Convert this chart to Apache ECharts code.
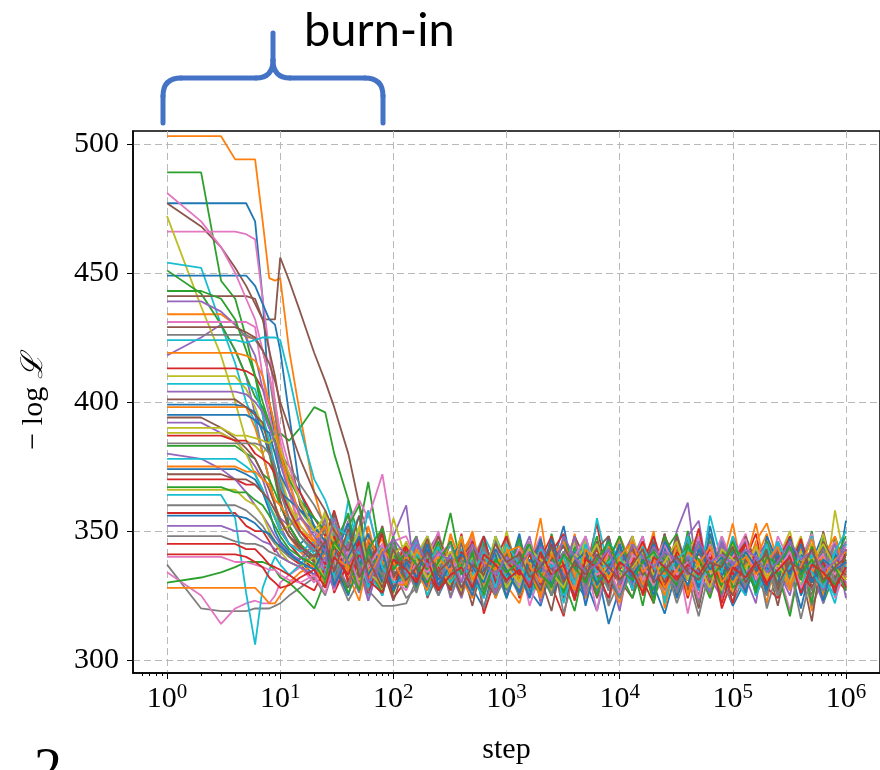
<!DOCTYPE html>
<html>
<head>
<meta charset="utf-8">
<script src="https://cdn.jsdelivr.net/npm/echarts@6/dist/echarts.min.js"></script>
<style>
  html, body { margin: 0; padding: 0; background: #fff; }
  #chart { width: 880px; height: 770px; }
</style>
</head>
<body>
<div id="chart"></div>
<script>
// sampled steps (log spaced after the first decade)
var steps = [1, 2, 3, 4, 5, 6, 7, 8, 9, 10, 12, 15, 20, 25, 30, 40, 50, 60, 80, 100,
  130, 160, 200, 250, 320, 400, 500, 630, 800, 1000,
  1300, 1600, 2000, 2500, 3200, 4000, 5000, 6300, 8000, 10000,
  13000, 16000, 20000, 25000, 32000, 40000, 50000, 63000, 80000, 100000,
  130000, 160000, 200000, 250000, 320000, 400000, 500000, 630000, 800000, 1000000];

var xTicks = [1, 10, 100, 1000, 10000, 100000, 1000000];
var xMinorTicks = [0.6, 0.7, 0.8, 0.9, 2, 3, 4, 5, 6, 7, 8, 9,
  20, 30, 40, 50, 60, 70, 80, 90, 200, 300, 400, 500, 600, 700, 800, 900,
  2000, 3000, 4000, 5000, 6000, 7000, 8000, 9000,
  20000, 30000, 40000, 50000, 60000, 70000, 80000, 90000,
  200000, 300000, 400000, 500000, 600000, 700000, 800000, 900000];
var yTicks = [300, 350, 400, 450, 500];

var tab10 = ['#1f77b4', '#ff7f0e', '#2ca02c', '#d62728', '#9467bd',
  '#8c564b', '#e377c2', '#7f7f7f', '#bcbd22', '#17becf'];

// -log L of each walker, steps 1 .. 100
var burnIn = [
  [477,477,477,477,477,470,440,400,385,370,352,345,350,341,334,346,328,339,325,344],
  [503,503,503,494,494,494,470,448,447,448,420,395,365,350,342,336,347,330,338,327],
  [489,489,447,440,425,410,395,380,370,360,352,345,338,346,332,340,351,369,336,326],
  [357,357,357,357,352,350,350,346,342,345,340,337,331,343,327,338,345,330,341,324],
  [418,425,430,420,410,395,380,370,360,352,345,343,338,329,347,335,326,342,333,348],
  [477,468,460,452,445,438,432,432,432,456,447,435,419,408,398,380,360,348,334,341],
  [466,466,466,466,465,463,440,420,400,385,370,355,348,337,352,330,341,327,345,336],
  [337,320,319,319,319,320,320,320,321,322,325,328,332,325,336,323,331,340,328,335],
  [472,437,418,400,385,383,380,384,385,370,360,350,342,351,336,345,328,340,333,355],
  [454,452,430,415,400,392,380,370,360,350,345,340,337,347,331,362,339,326,343,334],
  [449,449,449,449,449,445,438,432,430,420,395,365,352,343,356,334,347,329,338,331],
  [434,434,434,430,425,425,420,410,400,380,365,350,344,336,349,330,342,335,327,339],
  [451,442,430,420,410,402,398,390,385,388,385,390,398,396,380,362,347,333,344,328],
  [413,413,413,413,412,410,405,400,390,380,372,365,355,348,358,339,332,346,329,337],
  [439,439,435,430,425,418,405,395,385,370,358,350,343,355,336,329,344,338,349,332],
  [441,441,441,441,441,440,432,420,410,398,380,360,351,343,357,338,330,347,336,323],
  [431,431,431,431,431,429,410,395,385,378,365,352,346,337,341,328,350,358,334,345],
  [426,426,426,426,426,424,420,410,395,380,375,368,360,352,345,356,336,330,342,338],
  [410,410,410,410,405,398,390,385,380,372,360,352,345,358,339,348,331,343,327,340],
  [407,407,407,407,407,405,395,385,375,368,358,348,341,333,352,337,346,325,339,344],
  [399,399,399,399,398,396,388,380,375,365,362,358,355,350,344,339,351,330,337,328],
  [398,398,398,398,398,390,380,370,360,355,348,342,336,348,329,341,334,352,331,343],
  [383,383,383,383,380,378,372,370,365,360,352,345,340,331,344,352,360,335,326,341],
  [370,370,370,370,368,368,365,360,355,350,345,340,335,342,326,338,347,332,344,336],
  [392,392,388,385,380,375,370,362,358,355,352,355,350,345,340,354,333,341,329,346],
  [401,401,401,401,398,395,392,382,372,362,350,344,339,352,334,328,343,337,350,331],
  [334,325,314,320,322,323,322,322,325,330,333,336,330,339,327,344,335,323,341,332],
  [348,348,348,346,345,345,344,342,341,340,338,336,341,332,349,337,327,345,333,339],
  [388,388,388,385,380,372,366,360,356,350,352,358,350,346,355,338,344,330,341,335],
  [364,364,364,355,326,306,328,335,340,337,333,337,344,328,339,347,356,334,325,342],
  [374,374,374,374,372,370,365,358,350,346,342,338,333,346,337,325,341,349,334,338],
  [328,328,328,328,328,328,325,322,322,325,330,334,337,329,345,333,323,339,347,330],
  [330,332,334,336,338,338,338,337,335,332,330,326,320,331,340,326,335,344,332,338],
  [345,345,345,345,343,343,340,337,336,335,333,330,327,336,344,331,338,326,342,335],
  [380,378,374,370,365,360,356,352,348,345,341,339,345,334,328,343,350,337,331,344],
  [394,394,390,386,382,378,372,366,360,354,348,343,338,347,335,329,342,336,352,333],
  [481,470,460,450,440,432,420,410,400,388,375,362,350,345,340,353,362,355,372,346],
  [360,360,360,360,358,355,352,348,345,343,340,338,335,342,330,346,334,327,321,321],
  [366,366,366,366,362,360,356,350,346,342,338,336,340,331,347,335,352,338,329,343],
  [378,378,378,378,375,372,366,360,355,350,345,342,346,337,333,349,340,328,344,336],
  [395,395,395,395,395,393,390,388,380,372,365,358,352,346,340,353,337,344,330,339],
  [375,375,375,375,373,373,370,368,362,360,355,350,346,339,353,335,328,347,338,331],
  [443,443,440,432,420,410,400,392,385,378,370,362,355,350,343,357,336,342,333,348],
  [387,387,387,385,385,380,378,376,372,366,358,350,344,337,348,330,341,335,349,327],
  [352,352,352,350,350,348,346,345,343,340,338,336,333,340,328,345,337,323,342,336],
  [429,429,429,429,427,425,420,415,408,400,390,378,365,358,350,342,356,338,345,332],
  [340,340,340,338,338,337,336,335,335,333,331,330,333,326,338,342,329,336,345,330],
  [384,384,384,384,384,384,383,380,375,365,355,348,342,351,337,329,346,340,333,344],
  [390,390,390,387,387,386,385,384,387,382,372,362,350,356,345,338,352,334,329,341],
  [424,424,424,424,423,424,425,425,425,424,410,390,370,362,352,348,341,358,336,330],
  [356,356,356,356,355,353,350,349,346,344,341,338,335,344,329,340,348,333,342,327],
  [419,419,419,419,418,416,410,400,390,380,368,356,346,352,340,336,345,331,343,338],
  [367,367,367,365,365,362,360,356,352,348,343,340,337,331,346,338,327,343,351,335],
  [341,341,341,341,340,338,336,332,330,328,329,332,335,328,340,333,346,331,326,339],
  [404,404,404,404,403,400,396,390,384,376,365,356,348,342,355,337,344,330,341,347],
  [372,372,372,370,370,368,365,362,358,354,348,344,340,346,334,351,332,339,328,343]
];

// -log L of each walker, steps 130 .. 1e6
var settled = [
  [338,331,342,325,335,346,328,320,339,334, 343,327,321,336,352,331,324,335,314,328, 339,348,329,318,335,342,327,352,332,321, 331,341,325,345,336,320,338,349,329,335],
  [334,343,336,327,348,338,325,332,341,329, 322,335,355,328,339,346,324,336,331,342, 327,335,350,320,339,331,343,325,336,353, 328,338,322,346,334,341,319,335,345,328],
  [341,348,329,338,357,335,327,345,324,336, 332,342,325,349,331,319,339,334,346,327, 338,321,342,335,329,350,334,324,341,331, 348,325,336,329,342,335,350,322,334,339],
  [331,339,348,328,335,325,343,318,332,342, 324,336,346,329,317,339,334,353,327,335, 342,331,322,348,338,328,335,343,320,332, 339,349,328,324,336,345,331,325,341,334],
  [360,327,342,349,334,324,339,331,346,328, 335,343,322,338,331,348,325,341,335,319, 345,332,338,328,350,361,329,336,325,342, 332,322,348,335,327,343,338,331,346,324],
  [335,342,324,334,345,336,321,341,329,348, 328,338,332,319,342,335,346,327,336,331, 324,341,334,349,328,336,320,343,335,339, 346,329,338,321,342,334,325,350,331,336],
  [343,332,338,350,327,335,345,325,336,328, 339,321,334,343,336,327,348,331,324,341, 335,345,325,332,341,318,338,348,329,335, 325,342,334,336,319,339,349,328,335,343],
  [324,328,334,325,338,331,341,320,335,329, 336,325,332,342,318,334,328,338,321,331, 339,328,335,324,343,332,317,336,331,322, 334,341,320,335,328,338,321,332,342,327],
  [339,334,346,329,338,325,342,335,328,350, 332,338,343,327,336,348,331,325,341,335, 328,346,336,325,334,342,349,329,338,327, 345,335,328,339,350,331,341,324,358,336],
  [332,341,325,336,345,328,338,348,331,335, 342,324,335,331,339,346,327,355,335,325, 338,331,348,322,341,335,328,345,336,332, 325,343,335,331,348,327,338,334,322,342],
  [336,346,331,339,327,343,335,324,348,332, 328,336,345,325,335,341,331,319,338,348, 332,327,339,343,324,336,348,331,335,341, 328,338,346,325,335,329,341,336,327,354],
  [342,335,327,348,336,331,324,341,335,345, 325,334,342,336,329,349,327,338,332,322, 339,345,335,328,348,324,336,331,341,335, 334,346,353,338,328,336,343,325,335,331],
  [334,338,345,327,335,342,348,329,336,324, 341,332,325,338,345,328,335,348,327,339, 331,336,324,342,349,334,328,339,332,343, 327,336,342,334,317,339,331,324,348,335],
  [345,336,329,339,332,349,327,335,342,331, 336,346,328,335,324,341,334,343,331,338, 348,328,336,332,339,324,343,335,327,346, 336,331,341,325,343,335,328,338,332,327],
  [329,339,335,343,324,336,346,328,338,334, 327,342,336,331,348,325,335,341,329,336, 339,332,343,327,335,348,354,328,338,331, 342,325,335,346,329,338,334,322,341,335],
  [338,343,332,327,342,335,348,331,325,336, 345,334,327,339,335,324,343,332,348,328, 336,341,331,349,325,335,338,328,345,334, 327,338,343,332,339,335,315,345,328,336],
  [335,328,341,348,331,338,325,343,334,341, 329,338,348,327,335,342,322,336,331,346, 327,335,343,325,338,331,348,336,328,339, 349,331,336,327,343,334,324,339,346,329],
  [328,338,334,342,325,335,345,336,327,348, 335,325,341,332,338,328,345,335,322,341, 334,343,327,336,332,339,322,348,335,328, 338,332,325,343,336,316,334,341,328,338],
  [341,331,336,346,335,327,339,348,331,338, 325,335,343,334,328,338,346,327,336,331, 342,335,325,345,334,338,329,349,327,336, 332,342,335,325,338,348,331,336,343,327],
  [331,339,348,335,328,343,332,324,341,335, 346,328,336,341,325,334,343,336,327,348, 335,331,342,324,336,346,328,356,338,332, 341,325,335,345,328,336,348,329,339,334],
  [336,343,327,338,332,342,335,346,328,339, 334,324,345,336,329,341,335,325,348,331, 338,328,335,343,324,339,334,345,327,336, 346,329,338,334,342,325,335,345,331,338],
  [343,334,339,328,349,336,331,341,324,335, 342,336,327,348,332,339,324,335,343,328, 334,341,336,325,345,332,338,327,348,335, 331,339,349,328,336,343,334,325,338,332],
  [332,341,335,345,329,338,348,328,336,327, 338,346,334,325,342,335,329,339,345,334, 324,336,343,334,328,339,335,346,325,338, 335,345,328,338,332,341,322,348,335,331],
  [339,329,346,336,327,335,342,332,339,348, 329,338,334,342,349,327,336,331,341,335, 345,325,336,341,332,348,328,335,338,322, 342,334,339,329,346,335,327,338,334,343],
  [335,345,328,334,341,331,336,346,335,325, 348,332,339,328,336,343,335,327,346,338, 329,339,334,345,327,336,342,332,324,348, 336,328,341,335,325,345,338,332,342,327],
  [342,332,338,348,335,325,343,336,328,341, 335,345,327,338,331,348,339,324,335,342, 332,336,346,328,338,335,325,343,336,331, 348,338,329,341,335,328,345,336,332,339],
  [327,336,343,332,339,335,348,325,338,331, 341,335,328,346,336,331,339,319,343,334, 338,348,329,335,342,327,336,345,332,325, 335,341,331,348,338,328,336,343,324,335],
  [338,348,332,339,328,345,336,331,341,335, 325,336,346,335,342,332,327,338,334,345, 328,335,339,332,348,336,327,343,335,338, 331,342,336,325,346,334,339,329,336,345],
  [346,336,341,331,338,348,329,335,343,328, 336,343,335,327,339,334,346,328,336,341, 335,331,342,338,327,336,345,334,339,329, 341,335,345,336,328,339,332,349,329,342],
  [334,342,336,346,327,335,339,331,348,338, 328,339,335,343,322,338,348,331,335,341, 345,336,328,339,335,343,332,327,348,336, 329,339,335,346,328,338,341,332,325,345],
  [341,335,328,338,346,334,325,342,336,332, 349,329,338,335,345,327,336,341,332,324, 339,334,345,336,328,335,346,331,338,342, 335,327,348,338,331,341,335,343,328,336],
  [329,338,346,335,331,341,349,328,336,334, 342,335,325,345,338,332,341,335,328,348, 336,327,338,346,334,341,331,336,343,325, 338,353,332,339,335,328,345,336,341,331],
  [336,328,339,343,334,338,327,346,335,342, 331,341,336,328,348,335,343,325,338,332, 342,335,327,348,336,329,339,335,345,328, 332,336,342,329,338,346,335,327,339,348],
  [345,339,334,327,342,336,346,335,329,338, 335,328,339,348,331,336,342,334,324,343, 327,338,348,335,341,331,336,343,328,339, 345,335,329,338,348,332,339,335,342,328],
  [332,343,336,341,335,328,338,348,331,336, 339,348,329,335,342,336,325,345,334,338, 348,329,339,335,327,342,336,332,345,335, 328,339,346,335,331,343,336,327,338,346],
  [339,335,345,328,336,346,334,339,327,343, 334,338,346,336,327,339,335,343,348,331, 336,342,332,339,345,327,335,338,342,334, 339,331,336,342,335,346,328,338,334,341],
  [348,338,331,342,335,339,345,327,336,335, 343,336,331,339,346,328,338,335,342,332, 339,331,338,346,335,341,328,336,348,338, 334,343,339,331,336,345,335,341,328,338],
  [322,331,338,334,328,336,343,335,325,332, 338,329,335,345,327,336,332,339,334,324, 335,341,331,338,322,334,342,336,329,335, 339,328,335,338,343,332,327,336,345,334],
  [335,341,348,336,329,339,332,342,335,345, 328,338,334,342,336,346,327,335,339,331, 348,336,329,338,342,332,339,335,327,345, 336,334,341,331,338,329,345,335,339,332],
  [338,346,335,329,341,336,328,348,339,332, 336,345,327,338,335,343,334,328,346,339, 331,338,342,334,336,348,327,339,335,343, 338,329,335,346,336,328,341,334,342,336],
  [336,329,343,331,339,346,327,335,341,324, 338,332,347,329,336,342,321,339,333,345, 330,337,325,344,335,340,328,349,333,338, 326,342,336,330,347,334,339,323,341,335],
  [341,334,327,345,332,338,350,329,336,343, 331,337,324,340,346,333,338,328,344,336, 342,329,337,333,346,325,339,335,341,330, 336,345,331,338,327,343,334,340,348,332],
  [328,340,335,346,330,337,342,325,339,334, 347,331,336,341,326,344,335,330,339,348, 333,338,322,341,336,345,331,337,329,343, 340,326,346,333,338,331,344,336,329,341],
  [344,331,339,336,327,342,335,348,330,338, 333,341,329,345,337,324,340,335,343,331, 338,346,334,328,342,336,351,330,337,333, 345,338,329,340,334,347,331,338,326,343],
  [333,345,338,329,341,334,337,343,326,339, 336,330,344,338,333,348,327,340,335,342, 329,335,344,337,330,340,334,326,346,338, 332,340,336,344,329,337,342,333,345,330],
  [339,336,347,333,328,340,345,332,337,330, 342,335,327,339,344,336,331,346,328,337, 343,333,339,330,348,335,341,338,332,325, 339,334,343,327,341,338,330,346,337,333],
  [330,338,334,341,345,331,336,327,343,337, 329,346,334,338,331,340,348,333,336,326, 341,337,329,345,333,338,324,342,336,340, 347,331,338,335,342,328,336,341,333,344],
  [337,326,341,335,332,339,329,344,334,337, 340,333,338,325,342,331,336,339,327,343, 335,328,336,341,326,337,344,331,339,335, 329,337,341,325,339,333,336,343,330,338],
  [345,339,332,337,342,335,340,331,348,336, 330,343,339,334,328,341,337,345,331,339, 336,342,333,338,346,331,337,328,343,339, 335,344,332,337,330,342,338,345,336,331],
  [332,341,337,344,330,336,333,342,328,345, 337,331,343,336,340,329,345,334,338,341, 327,344,336,332,339,343,330,337,334,348, 331,336,345,329,336,340,334,328,342,350],
  [338,332,345,329,337,341,336,330,343,335, 326,339,334,347,331,338,342,329,336,344, 333,339,331,346,337,329,343,335,340,331, 342,336,327,341,333,345,330,339,335,338],
  [329,343,336,340,334,347,331,338,335,342, 344,337,330,341,335,327,343,338,332,340, 346,334,339,328,335,342,337,344,330,336, 340,333,338,344,329,336,347,332,339,342],
  [342,337,330,338,346,333,341,327,339,334, 338,345,333,329,341,336,330,339,346,335, 331,338,342,335,329,344,339,332,337,346, 334,328,340,337,344,333,339,330,336,327],
  [335,330,339,327,333,336,328,341,337,331, 335,328,342,333,337,323,339,336,330,338, 334,326,340,336,331,337,333,340,322,336, 332,338,330,335,340,326,337,334,328,336],
  [340,347,336,342,338,330,345,337,333,340, 336,342,337,331,348,340,334,337,343,329, 345,340,336,342,339,333,346,338,341,337, 343,340,334,338,346,339,342,335,338,343],
  [331,336,342,334,339,328,337,333,345,338, 341,332,336,344,330,338,333,341,336,331, 337,343,330,335,340,334,331,338,336,344, 330,337,341,329,338,335,343,331,336,340]
];

var serif = '"Liberation Serif", "DejaVu Serif", serif';

var chart = echarts.init(document.getElementById('chart'));

var series = burnIn.map(function (head, w) {
  var vals = head.concat(settled[w]);
  return {
    type: 'line',
    xAxisIndex: 0,
    yAxisIndex: 0,
    symbol: 'none',
    silent: true,
    lineStyle: { width: 1.8, color: tab10[w % 10] },
    data: steps.map(function (s, i) { return [s, vals[i]]; })
  };
});

// the blue brace over the burn-in phase, drawn as straight and curved pieces
var braceStyle = { stroke: '#4472c4', lineWidth: 5, fill: null, lineCap: 'round' };
function braceLine(x1, y1, x2, y2) {
  return { type: 'line', shape: { x1: x1, y1: y1, x2: x2, y2: y2 }, style: braceStyle, silent: true };
}
function braceCurve(x1, y1, cx, cy, x2, y2) {
  return { type: 'bezierCurve', shape: { x1: x1, y1: y1, cpx1: cx, cpy1: cy, x2: x2, y2: y2 }, style: braceStyle, silent: true };
}
var brace = [
  braceLine(163, 123, 163, 96),
  braceCurve(163, 96, 163, 78, 181, 78),
  braceLine(181, 78, 256, 78),
  braceCurve(256, 78, 273, 78, 273, 60),
  braceLine(273, 60, 273, 33),
  braceCurve(273, 60, 273, 78, 290, 78),
  braceLine(290, 78, 365, 78),
  braceCurve(365, 78, 383, 78, 383, 96),
  braceLine(383, 96, 383, 123)
];

var option = {
  animation: false,
  backgroundColor: '#fff',
  grid: {
    left: 133, top: 131, width: 754, height: 542,
    show: true, borderColor: '#000', borderWidth: 1.5, backgroundColor: 'transparent'
  },
  xAxis: [{
    type: 'log',
    logBase: 10,
    min: 0.5,
    max: 2000000,
    name: 'step',
    nameLocation: 'middle',
    nameGap: 62,
    nameTextStyle: { fontFamily: serif, fontSize: 30, color: '#000' },
    axisLine: { onZero: false, lineStyle: { color: '#000', width: 1.5 } },
    axisTick: { customValues: xTicks, length: 6, lineStyle: { color: '#000', width: 1 } },
    axisLabel: {
      customValues: xTicks,
      margin: 9,
      formatter: function (v) {
        return '{b|10}{s|' + Math.round(Math.log(v) / Math.LN10) + '}';
      },
      rich: {
        b: { fontFamily: serif, fontSize: 30, lineHeight: 34, color: '#000' },
        s: { fontFamily: serif, fontSize: 21, lineHeight: 21, verticalAlign: 'top', color: '#000' }
      }
    },
    splitLine: { show: true, lineStyle: { color: '#b8b8b8', width: 1, type: [7, 4] } }
  }, {
    type: 'log',
    logBase: 10,
    min: 0.5,
    max: 2000000,
    gridIndex: 0,
    position: 'bottom',
    axisLine: { show: false },
    axisTick: { customValues: xMinorTicks, length: 3, lineStyle: { color: '#000', width: 1 } },
    axisLabel: { show: false },
    splitLine: { show: false }
  }],
  yAxis: {
    type: 'value',
    min: 295,
    max: 505,
    name: '{m|\u2212 log }{l|\u2112}',
    nameLocation: 'middle',
    nameRotate: 90,
    nameGap: 84,
    nameTextStyle: {
      rich: {
        m: { fontFamily: serif, fontSize: 30, color: '#000' },
        l: { fontFamily: '"DejaVu Serif", serif', fontStyle: 'italic', fontSize: 30, color: '#000' }
      }
    },
    axisLine: { show: true, lineStyle: { color: '#000', width: 1.5 } },
    axisTick: { show: true, customValues: yTicks, length: 6, lineStyle: { color: '#000', width: 1 } },
    axisLabel: { customValues: yTicks, margin: 14, fontFamily: serif, fontSize: 30, color: '#000' },
    splitLine: { show: true, lineStyle: { color: '#b8b8b8', width: 1, type: [7, 4] } }
  },
  graphic: brace.concat([{
    type: 'text',
    left: 304,
    top: 7,
    style: { text: 'burn-in', fontFamily: 'Lato, "Open Sans", sans-serif', fontSize: 47, fill: '#000' },
    silent: true
  }, {
    type: 'text',
    left: 34,
    top: 744,
    style: { text: '2', fontFamily: serif, fontSize: 56, fill: '#000' },
    silent: true
  }]),
  series: series
};

chart.setOption(option);
</script>
</body>
</html>
